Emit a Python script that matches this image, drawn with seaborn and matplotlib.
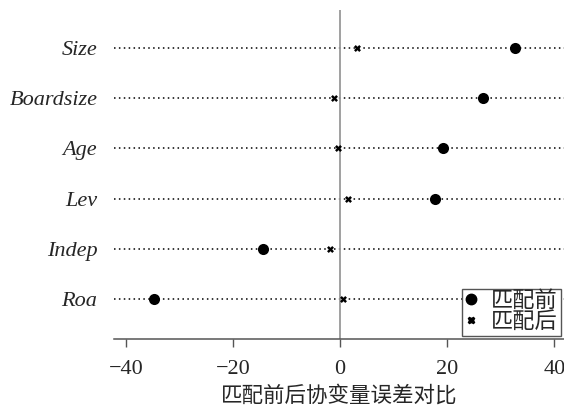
import pandas as pd
import matplotlib
matplotlib.use("Agg")
import matplotlib.pyplot as plt
import seaborn as sns
from matplotlib.lines import Line2D

# data
variables = ["Size", "Boardsize", "Age", "Lev", "Indep", "Roa"]
before = [32.6, 26.7, 19.2, 17.7, -14.4, -34.7]
after = [3.2, -1.1, -0.4, 1.5, -1.9, 0.6]
xticks = [-40, -20, 0, 20, 40]

df = pd.DataFrame({"var": variables, "before": before, "after": after})

sns.set_theme(style="white")
plt.rcParams["font.family"] = ["Liberation Serif", "Noto Sans CJK SC"]
plt.rcParams["axes.unicode_minus"] = True

fig, ax = plt.subplots(figsize=(5.64, 4.13), dpi=100)
fig.subplots_adjust(left=114 / 564, right=1.0, top=1 - 10 / 413, bottom=1 - 339 / 413)

xmin, xmax = -42.2, 41.8

# dotted guide lines for each variable
ax.hlines(range(len(variables)), xmin, xmax, colors="black", linestyles=(0, (1, 2.2)), linewidth=1.1, zorder=1)
ax.axvline(0, color="#999999", linewidth=1.3, zorder=1)

sns.stripplot(data=df, x="before", y="var", order=variables, jitter=False, orient="h",
              color="black", marker="o", size=8, linewidth=0, ax=ax, zorder=3)
sns.stripplot(data=df, x="after", y="var", order=variables, jitter=False, orient="h",
              color="black", marker="X", size=5, linewidth=0, ax=ax, zorder=3)

ax.set_xlim(xmin, xmax)
ax.set_ylim(5.8, -0.76)
ax.set_xticks(xticks)
ax.set_xlabel("匹配前后协变量误差对比", fontsize=15.5, labelpad=5)
ax.set_ylabel("")
ax.tick_params(axis="x", labelsize=16, length=6, width=1, color="#555555", bottom=True, pad=9)
ax.tick_params(axis="y", length=0, pad=12)
for lab in ax.get_yticklabels():
    lab.set_fontstyle("italic")
    lab.set_fontsize(16)

for s in ["top", "right", "left"]:
    ax.spines[s].set_visible(False)
ax.spines["bottom"].set_color("#555555")
ax.spines["bottom"].set_linewidth(1.1)

handles = [
    Line2D([], [], marker="o", color="black", linestyle="none", markersize=7.5),
    Line2D([], [], marker="X", color="black", linestyle="none", markersize=4.5),
]
leg = ax.legend(handles, ["匹配前", "匹配后"], loc="lower right", fontsize=16,
                frameon=True, fancybox=False, edgecolor="#555555", framealpha=1,
                handlelength=0.6, handletextpad=0.6, borderpad=0.12, labelspacing=0.0,
                borderaxespad=0.15)
leg.get_frame().set_linewidth(1)

fig.savefig("out.png", dpi=100)
